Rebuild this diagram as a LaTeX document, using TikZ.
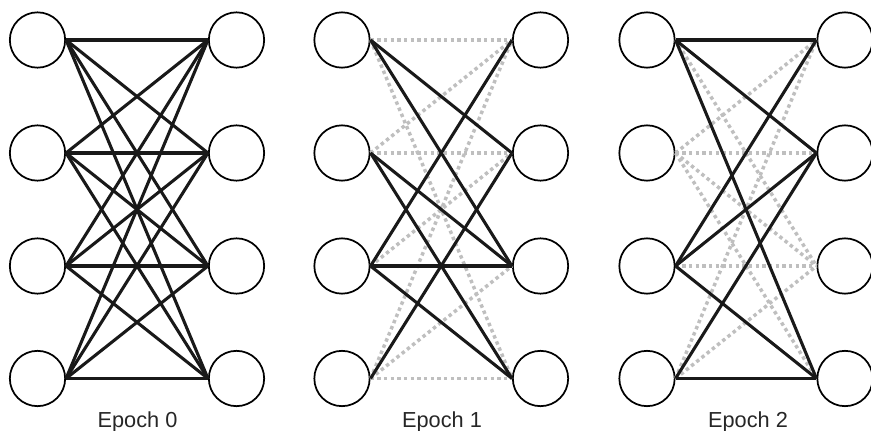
\documentclass[tikz,border=0pt]{standalone}
\usepackage{fontspec}
\setmainfont{Liberation Sans}
\begin{document}
\begin{tikzpicture}[x=0.75pt,y=-0.75pt,
  neuron/.style={circle,draw=black,line width=1.3pt,minimum size=41.5pt,inner sep=0pt},
  wsolid/.style={draw=black!90,line width=2.3pt},
  wdrop/.style={draw=black!25,line width=2.6pt,dash pattern=on 2.6pt off 2.4pt},
  lbl/.style={font=\fontsize{16.3}{18}\selectfont,text=black!85,anchor=base,inner sep=0pt}]
\useasboundingbox (0,0) rectangle (871,431);
% nodes
\foreach \p/\lx/\rx in {a/37.5/236.5, b/342/540.5, c/647/845}{
  \foreach \i/\y in {1/40,2/153,3/266,4/378.5}{
    \node[neuron] (\p L\i) at (\lx,\y) {};
    \node[neuron] (\p R\i) at (\rx,\y) {};
  }
}
% Epoch 0: all solid
\foreach \i in {1,...,4}{
  \foreach \j in {1,...,4}{
    \draw[wsolid] (aL\i.east) -- (aR\j.west);
  }
}
% Epoch 1
\foreach \i/\j in {1/1,1/4,2/1,2/2,3/2,4/1,4/3,4/4}{
  \draw[wdrop] (bL\i.east) -- (bR\j.west);
}
\foreach \i/\j in {1/2,1/3,2/3,2/4,3/1,3/3,3/4,4/2}{
  \draw[wsolid] (bL\i.east) -- (bR\j.west);
}
% Epoch 2
\foreach \i/\j in {1/3,2/1,2/2,2/3,2/4,3/3,4/1,4/3}{
  \draw[wdrop] (cL\i.east) -- (cR\j.west);
}
\foreach \i/\j in {1/1,1/2,1/4,3/1,3/2,3/4,4/2,4/4}{
  \draw[wsolid] (cL\i.east) -- (cR\j.west);
}
% labels
\node[lbl] (t0) at (137.5,427) {Epoch 0};
\node[lbl] (t1) at (442,427) {Epoch 1};
\node[lbl] (t2) at (748,427) {Epoch 2};
\end{tikzpicture}
\end{document}
